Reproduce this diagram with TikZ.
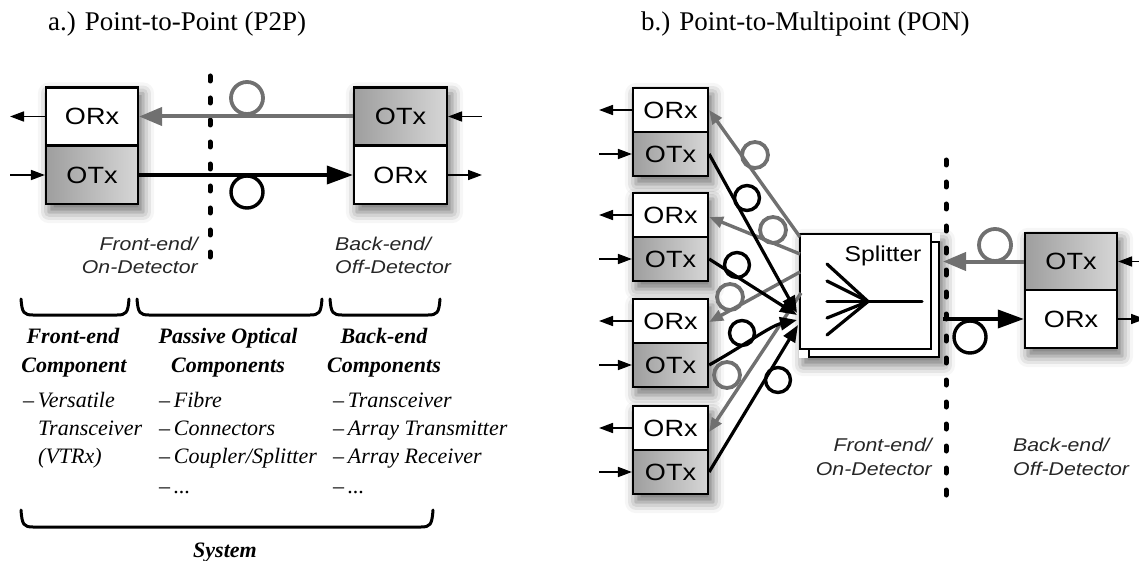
\documentclass[tikz,border=0pt]{standalone}
\usepackage{fontspec}
\setmainfont{Liberation Serif}
\setsansfont{Liberation Sans}
\usetikzlibrary{arrows.meta,shadows.blur}
\pgfdeclarelayer{bg}
\pgfsetlayers{bg,main}
\definecolor{fibgray}{RGB}{112,112,112}
\newcommand\wtxt[1]{\scalebox{1.15}[1]{#1}}
\newcommand\ubr[4]{\draw[brc] (#1,#3) .. controls (#1+1,#4-2) and (#1+3,#4) .. (#1+12,#4) -- (#2-12,#4) .. controls (#2-3,#4) and (#2-1,#4-2) .. (#2,#3);}
\tikzset{
  box/.style={draw=black, line width=2.2pt, inner sep=0pt, font=\sffamily\fontsize{23.5}{26}\selectfont},
  rxbox/.style={box, fill=white},
  txbox/.style={box, left color=black!38, right color=black!16},
  shd/.style={fill=white, blur shadow={shadow xshift=4pt, shadow yshift=-7pt, shadow blur radius=11pt, shadow opacity=55}},
  fibk/.style={draw=black, line width=3.6pt, -{Triangle[length=26pt,width=18pt]}},
  fibg/.style={draw=fibgray, line width=4pt, -{Triangle[length=23pt,width=18pt]}},
  fank/.style={draw=black, line width=3.2pt, -{Triangle[length=17pt,width=13pt]}},
  fang/.style={draw=fibgray, line width=3.4pt, -{Triangle[length=14pt,width=11pt]}},
  loopk/.style={draw=black, line width=3.4pt},
  loopg/.style={draw=fibgray, line width=3.8pt},
  ext/.style={draw=black, line width=1.7pt, -{Triangle[length=14pt,width=10pt]}},
  dots/.style={draw=black, line width=5pt, line cap=round, dash pattern=on 5pt off 17pt},
  brc/.style={draw=black, line width=3pt, line cap=round},
  sflab/.style={font=\sffamily\itshape\fontsize{18.5}{22}\selectfont, text=black!85, inner sep=0pt},
  ttl/.style={font=\fontsize{27}{30}\selectfont, anchor=base west, inner sep=0pt},
  head/.style={font=\bfseries\itshape\fontsize{22}{26}\selectfont, anchor=base, inner sep=0pt},
  itm/.style={font=\itshape\fontsize{22}{26}\selectfont, anchor=base west, inner sep=0pt},
  spl/.style={draw=black, line width=3.2pt, line cap=round},
}
\begin{document}
\begin{tikzpicture}[x=1pt,y=-1pt]
\useasboundingbox (0,0) rectangle (1139,561);

% ---------------- titles
\node[ttl] (ta) at (48,31) {a.) Point-to-Point (P2P)};
\node[ttl] (tb) at (641,31) {b.) Point-to-Multipoint (PON)};

% ---------------- a.) P2P
\node[rxbox, minimum width=92pt, minimum height=58pt] (Lrx) at (92,116.5) {\wtxt{ORx}};
\node[txbox, minimum width=92pt, minimum height=58pt] (Ltx) at (92,175) {\wtxt{OTx}};
\node[txbox, minimum width=93pt, minimum height=58pt] (Rtx) at (400.5,116.5) {\wtxt{OTx}};
\node[rxbox, minimum width=93pt, minimum height=58pt] (Rrx) at (400.5,175) {\wtxt{ORx}};
\begin{pgfonlayer}{bg}
  \path[shd] (Lrx.north west) rectangle (Ltx.south east);
  \path[shd] (Rtx.north west) rectangle (Rrx.south east);
\end{pgfonlayer}

\coordinate (La) at (10,116.5);
\coordinate (Lb) at (10,175);
\coordinate (Ra) at (482,116.5);
\coordinate (Rb) at (482,175);
\draw[ext] (Lrx.west) -- (La);
\draw[ext] (Lb) -- (Ltx.west);
\draw[ext] (Ra) -- (Rtx.east);
\draw[ext] (Rrx.east) -- (Rb);

\draw[dots] (210,76) -- (210,272);
\draw[fibg] (Rtx.west) -- (Lrx.east);
\draw[fibk] (Ltx.east) -- (Rrx.west);
\draw[loopg] (247,98) circle[radius=16pt];
\draw[loopk] (247,192) circle[radius=16pt];

\node[sflab, anchor=base east] (lf1) at (198,250) {\wtxt{Front-end/}};
\node[sflab, anchor=base east] (lf2) at (198,273) {\wtxt{On-Detector}};
\node[sflab, anchor=base west] (lb1) at (335,250) {\wtxt{Back-end/}};
\node[sflab, anchor=base west] (lb2) at (335,273) {\wtxt{Off-Detector}};

% braces
\ubr{21}{129}{299}{315}
\ubr{137}{322}{299}{315}
\ubr{330}{440}{299}{315}
\ubr{21}{433}{510}{527}

\node[head] (h1a) at (73,343) {Front-end};
\node[head] (h1b) at (74,372) {Component};
\node[head] (h2a) at (228,343) {Passive Optical};
\node[head] (h2b) at (228,372) {Components};
\node[head] (h3a) at (384,343) {Back-end};
\node[head] (h3b) at (384,372) {Components};

\node[itm] (i11) at (23,407) {–\,Versatile};
\node[itm] (i12) at (38,435) {Transceiver};
\node[itm] (i13) at (38,463) {(VTRx)};
\node[itm] (i21) at (159,407) {–\,Fibre};
\node[itm] (i22) at (159,435) {–\,Connectors};
\node[itm] (i23) at (159,463) {–\,Coupler/Splitter};
\node[itm] (i24) at (159,493) {–\,...};
\node[itm] (i31) at (333,407) {–\,Transceiver};
\node[itm] (i32) at (333,435) {–\,Array Transmitter};
\node[itm] (i33) at (333,463) {–\,Array Receiver};
\node[itm] (i34) at (333,493) {–\,...};
\node[head] (sys) at (225,557) {System};

% ---------------- b.) PON
\foreach \i/\t in {1/88,2/193,3/299,4/406}{
  \node[rxbox, minimum width=75pt, minimum height=44pt] (rx\i) at (670.5,\t+22) {\wtxt{ORx}};
  \node[txbox, minimum width=75pt, minimum height=44pt] (tx\i) at (670.5,\t+66) {\wtxt{OTx}};
  \coordinate (ra\i) at (599,\t+22);
  \coordinate (ta\i) at (599,\t+66);
  \draw[ext] (rx\i.west) -- (ra\i);
  \draw[ext] (ta\i) -- (tx\i.west);
}
\node[rxbox, minimum width=130pt, minimum height=115pt] (splb) at (874,299.5) {};
\node[rxbox, minimum width=131pt, minimum height=115pt] (splf) at (865.5,291.5) {};
\node[txbox, minimum width=92pt, minimum height=57pt] (Ptx) at (1071,261.5) {\wtxt{OTx}};
\node[rxbox, minimum width=92pt, minimum height=58pt] (Prx) at (1071,319) {\wtxt{ORx}};
\begin{pgfonlayer}{bg}
  \foreach \i in {1,2,3,4}{\path[shd] (rx\i.north west) rectangle (tx\i.south east);}
  \path[shd] (splf.north west) rectangle (splb.south east);
  \path[shd] (Ptx.north west) rectangle (Prx.south east);
\end{pgfonlayer}

\node[font=\sffamily\fontsize{21.5}{24}\selectfont, anchor=base, inner sep=0pt] (spltxt) at (883,261) {\wtxt{Splitter}};
\coordinate (sc) at (868,301.5);
\draw[spl] (827,264) -- (sc);
\draw[spl] (827,281) -- (sc);
\draw[spl] (827,318) -- (sc);
\draw[spl] (827,335) -- (sc);
\draw[spl] (827,301.5) -- (922,301.5);

% splitter ports
\coordinate (g1) at (800,237);
\coordinate (g2) at (800,254);
\coordinate (g3) at (800,272);
\coordinate (g4) at (801,293);
\coordinate (k1) at (797,313);
\coordinate (k2) at (797,315);
\coordinate (k3) at (797,320);
\coordinate (k4) at (798,325);

\draw[fang] (g1) -- (rx1.east);
\draw[fang] (g2) -- ([yshift=-2pt]rx2.east);
\draw[fang] (g3) -- ([yshift=-1pt]rx3.east);
\draw[fang] (g4) -- ([yshift=-4pt]rx4.east);
\draw[fank] (tx1.east) -- (k1);
\draw[fank] (tx2.east) -- (k2);
\draw[fank] (tx3.east) .. controls (745,345) and (770,326) .. (k3);
\draw[fank] (tx4.east) -- (k4);

\draw[loopg] (755,155) circle[radius=13pt];
\draw[loopg] (773,230) circle[radius=13pt];
\draw[loopg] (730,297) circle[radius=13pt];
\draw[loopg] (727,375) circle[radius=13pt];
\draw[loopk] (747,198) circle[radius=12.5pt];
\draw[loopk] (737,265) circle[radius=12.5pt];
\draw[loopk] (742,333) circle[radius=12.5pt];
\draw[loopk] (778,380) circle[radius=12.5pt];

\draw[dots] (946,160) -- (946,505);
\coordinate (pg) at (943,261.5);
\coordinate (pk) at (943,319);
\draw[fibg] (Ptx.west) -- (pg);
\draw[fibk] (pk) -- (Prx.west);
\draw[loopg] (995,245) circle[radius=16pt];
\draw[loopk] (970,337) circle[radius=16pt];
\coordinate (Pa) at (1145,261.5);
\coordinate (Pb) at (1145,319);
\draw[ext] (Pa) -- (Ptx.east);
\draw[ext] (Prx.east) -- (Pb);

\node[sflab, anchor=base east] (rf1) at (932,451) {\wtxt{Front-end/}};
\node[sflab, anchor=base east] (rf2) at (932,475) {\wtxt{On-Detector}};
\node[sflab, anchor=base west] (rb1) at (1013,451) {\wtxt{Back-end/}};
\node[sflab, anchor=base west] (rb2) at (1013,475) {\wtxt{Off-Detector}};
\end{tikzpicture}
\end{document}
